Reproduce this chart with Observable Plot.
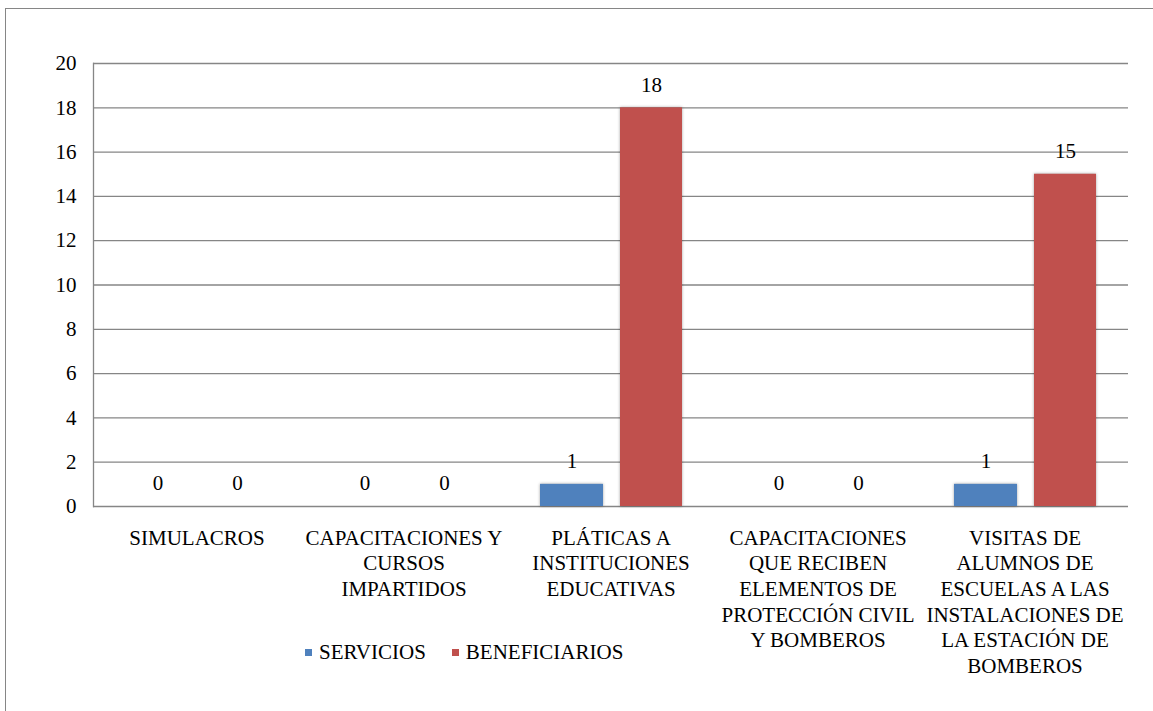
<!DOCTYPE html>
<html>
<head>
<meta charset="utf-8">
<script src="https://cdn.jsdelivr.net/npm/d3@7"></script>
<script src="https://cdn.jsdelivr.net/npm/@observablehq/plot@0.6"></script>
<style>
  html, body { margin: 0; padding: 0; background: #fff; overflow: hidden; }
  #wrap { position: relative; width: 1153px; height: 711px; font-family: "Times New Roman", "Liberation Serif", "DejaVu Serif", serif; }
  #frame { position: absolute; left: 5px; top: 8px; width: 1170px; height: 730px; border: 1.3px solid #868686; box-sizing: border-box; }
  #chart { position: absolute; left: 0; top: 0; }
  #chart svg, #chart text { font-family: "Times New Roman", "Liberation Serif", "DejaVu Serif", serif; }
  #legend { position: absolute; left: 305px; top: 640px; display: flex; align-items: center; font-size: 21px; color: #000; white-space: nowrap; }
  #legend .sw { display: inline-block; width: 7px; height: 7px; margin-right: 7px; }
  #legend .item { display: flex; align-items: center; margin-right: 26px; }
  g[aria-label="bar"] rect { filter: drop-shadow(0 0 1.5px rgba(0,0,0,0.35)); }
</style>
</head>
<body>
<div id="wrap">
  <div id="frame"></div>
  <div id="chart"></div>
  <div id="legend"></div>
</div>
<script>
const categories = [
  "SIMULACROS",
  "CAPACITACIONES Y CURSOS IMPARTIDOS",
  "PLÁTICAS A INSTITUCIONES EDUCATIVAS",
  "CAPACITACIONES QUE RECIBEN ELEMENTOS DE PROTECCIÓN CIVIL Y BOMBEROS",
  "VISITAS DE ALUMNOS DE ESCUELAS A LAS INSTALACIONES DE LA ESTACIÓN DE BOMBEROS"
];
const tickLabels = [
  "SIMULACROS",
  "CAPACITACIONES Y\nCURSOS\nIMPARTIDOS",
  "PLÁTICAS A\nINSTITUCIONES\nEDUCATIVAS",
  "CAPACITACIONES\nQUE RECIBEN\nELEMENTOS DE\nPROTECCIÓN CIVIL\nY BOMBEROS",
  "VISITAS DE\nALUMNOS DE\nESCUELAS A LAS\nINSTALACIONES DE\nLA ESTACIÓN DE\nBOMBEROS"
];
const seriesNames = ["SERVICIOS", "BENEFICIARIOS"];
const seriesColors = ["#4F81BD", "#C0504D"];
const servicios = [0, 0, 1, 0, 1];
const beneficiarios = [0, 0, 18, 0, 15];
const yTicks = [0, 2, 4, 6, 8, 10, 12, 14, 16, 18, 20];

const dataS = categories.map((c, i) => ({category: c, value: servicios[i]}));
const dataB = categories.map((c, i) => ({category: c, value: beneficiarios[i]}));
const labelOf = new Map(categories.map((c, i) => [c, tickLabels[i]]));
const serif = "'Times New Roman', 'Liberation Serif', 'DejaVu Serif', serif";

const chart = Plot.plot({
  width: 1153,
  height: 711,
  marginLeft: 93,
  marginRight: 25,
  marginTop: 63,
  marginBottom: 205,
  style: {fontFamily: serif, fontSize: "21px", color: "#000", background: "transparent"},
  x: {domain: categories, padding: 0, label: null},
  y: {domain: [0, 20], label: null},
  marks: [
    Plot.gridY(yTicks, {stroke: "#868686", strokeOpacity: 1, strokeWidth: 1.3}),
    Plot.frame({anchor: "left", stroke: "#868686", strokeWidth: 1.3}),
    Plot.axisY(yTicks, {tickSize: 0, tickPadding: 17, fontSize: 21, fill: "#000", label: null, fontFamily: serif}),
    Plot.axisX({tickSize: 0, tickPadding: 20, fontSize: 21, fill: "#000", lineHeight: 1.22, label: null, fontFamily: serif, tickFormat: d => labelOf.get(d)}),
    Plot.barY(dataS, {x: "category", y: "value", fill: seriesColors[0], insetLeft: 33, insetRight: 111}),
    Plot.barY(dataB, {x: "category", y: "value", fill: seriesColors[1], insetLeft: 113, insetRight: 32}),
    Plot.text(dataS, {x: "category", y: "value", text: d => String(d.value), dx: -39, dy: -23, fontSize: 21, fill: "#000", fontFamily: serif}),
    Plot.text(dataB, {x: "category", y: "value", text: d => String(d.value), dx: 40.5, dy: -23, fontSize: 21, fill: "#000", fontFamily: serif})
  ]
});
document.getElementById("chart").appendChild(chart);

const legend = document.getElementById("legend");
seriesNames.forEach((name, i) => {
  const item = document.createElement("span");
  item.className = "item";
  const sw = document.createElement("span");
  sw.className = "sw";
  sw.style.background = seriesColors[i];
  item.appendChild(sw);
  item.appendChild(document.createTextNode(name));
  legend.appendChild(item);
});
</script>
</body>
</html>
